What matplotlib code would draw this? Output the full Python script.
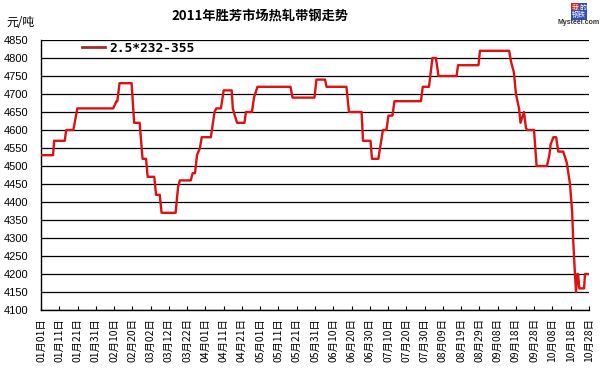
import matplotlib
matplotlib.use('Agg')
import matplotlib.pyplot as plt
import numpy as np

# days since 2011-01-01 and price (yuan/ton)
day = [0, 6.6, 7.2, 13.0, 13.8, 17.7, 19.9, 39.5, 41.3, 41.8, 43.0,
       49.6, 51.0, 54.0, 55.6, 57.5, 58.4, 62.0, 63.0, 65.0, 66.0,
       73.7, 75.0, 76.0, 82.0, 83.0, 84.3, 85.4, 87.0, 88.0,
       93.0, 95.0, 96.0, 98.5, 100.0, 104.4, 105.0, 107.3,
       111.4, 112.2, 115.5, 116.6, 118.5, 136.6, 137.7,
       149.7, 150.8, 155.5, 156.3, 167.2, 168.6, 175.5, 176.3,
       180.4, 181.2, 184.7, 185.6, 187.2, 189.1, 190.2, 192.4, 193.5,
       208.0, 209.0, 212.4, 214.3, 216.2, 217.6, 227.5, 228.3,
       239.5, 240.3, 256.3, 257.3, 258.9, 260.0, 261.7, 262.5,
       264.4, 265.5, 266.3, 269.9, 271.3, 277.0, 278.3, 279.0,
       280.5, 282.0, 283.2, 285.9, 287.8, 289.6, 290.8, 291.4,
       292.3, 292.9, 293.6, 294.0, 294.7, 297.3, 297.8, 300.5]
price = [4530, 4530, 4570, 4570, 4600, 4600, 4660, 4660, 4680, 4680, 4730,
         4730, 4620, 4620, 4520, 4520, 4470, 4470, 4420, 4420, 4370,
         4370, 4440, 4460, 4460, 4480, 4480, 4530, 4550, 4580,
         4580, 4650, 4660, 4660, 4710, 4710, 4660, 4620,
         4620, 4650, 4650, 4690, 4720, 4720, 4690,
         4690, 4740, 4740, 4720, 4720, 4650, 4650, 4570,
         4570, 4520, 4520, 4550, 4600, 4600, 4640, 4640, 4680,
         4680, 4720, 4720, 4800, 4800, 4750, 4750, 4780,
         4780, 4820, 4820, 4790, 4760, 4700, 4660, 4620,
         4650, 4605, 4600, 4600, 4500, 4500, 4530, 4560,
         4580, 4580, 4540, 4540, 4510, 4450, 4370, 4290,
         4200, 4150, 4200, 4200, 4160, 4160, 4200, 4200]

tick_days = np.arange(0, 301, 10)
tick_labels = ['01月01日', '01月11日', '01月21日', '01月31日', '02月10日',
               '02月20日', '03月02日', '03月12日', '03月22日', '04月01日',
               '04月11日', '04月21日', '05月01日', '05月11日', '05月21日',
               '05月31日', '06月10日', '06月20日', '06月30日', '07月10日',
               '07月20日', '07月30日', '08月09日', '08月19日', '08月29日',
               '09月08日', '09月18日', '09月28日', '10月08日', '10月18日',
               '10月28日']
series_name = '2.5*232-355'

cjk = ['Noto Sans CJK SC', 'DejaVu Sans']

fig = plt.figure(figsize=(6.04, 3.75), dpi=100)
ax = fig.add_axes([41 / 604, 65 / 375, 548 / 604, 270 / 375])

ax.plot(day, price, color='#DD1111', lw=1.7, label=series_name, zorder=3)

ax.set_xlim(0, 300)
ax.set_ylim(4100, 4850)
ax.set_yticks(np.arange(4100, 4851, 50))
ax.yaxis.grid(True, color='black', lw=0.9)
ax.set_axisbelow(True)

ax.spines['top'].set_visible(False)
ax.spines['right'].set_visible(False)
ax.spines['left'].set_linewidth(1.0)
ax.spines['bottom'].set_linewidth(1.0)

ax.tick_params(axis='y', length=0, pad=9, labelsize=8)
for t in ax.get_yticklabels():
    t.set_family('Liberation Sans')

ax.set_xticks(tick_days)
ax.set_xticklabels(tick_labels, rotation=90, family=cjk, fontsize=7.5)
ax.tick_params(axis='x', direction='in', length=3, pad=6)

leg = ax.legend(loc='upper left', bbox_to_anchor=(0.071, 1.0), frameon=False,
                borderpad=0.15, borderaxespad=0, handlelength=1.8,
                handletextpad=0.3,
                prop={'family': 'DejaVu Sans Mono', 'weight': 'bold', 'size': 9.3})
leg.get_lines()[0].set_color('#A52A2A')
leg.get_lines()[0].set_linewidth(2)

fig.text(260 / 604, 1 - 17 / 375, '2011年胜芳市场热轧带钢走势', ha='center',
         va='center', family=cjk, fontsize=9.5, weight='bold')
fig.text(6 / 604, 1 - 23 / 375, '元/吨', ha='left', va='center',
         family=cjk, fontsize=8.5)

# logo
fig.text(575 / 604, 1 - 8 / 375, '我', ha='center', va='center', family=cjk,
         fontsize=5, color='white',
         bbox=dict(boxstyle='square,pad=0.1', fc='#D02020', ec='none'))
fig.text(583 / 604, 1 - 8 / 375, '的', ha='center', va='center', family=cjk,
         fontsize=5, color='white',
         bbox=dict(boxstyle='square,pad=0.1', fc='#3050B0', ec='none'))
fig.text(579 / 604, 1 - 15 / 375, '钢铁', ha='center', va='center', family=cjk,
         fontsize=5, color='white',
         bbox=dict(boxstyle='square,pad=0.1', fc='#3050B0', ec='none'))
fig.text(600 / 604, 1 - 23 / 375, 'Mysteel.com', ha='right', va='center',
         family='Liberation Sans', fontsize=5, weight='bold', color='#333333')

fig.savefig('out.png', dpi=100, facecolor='white')
